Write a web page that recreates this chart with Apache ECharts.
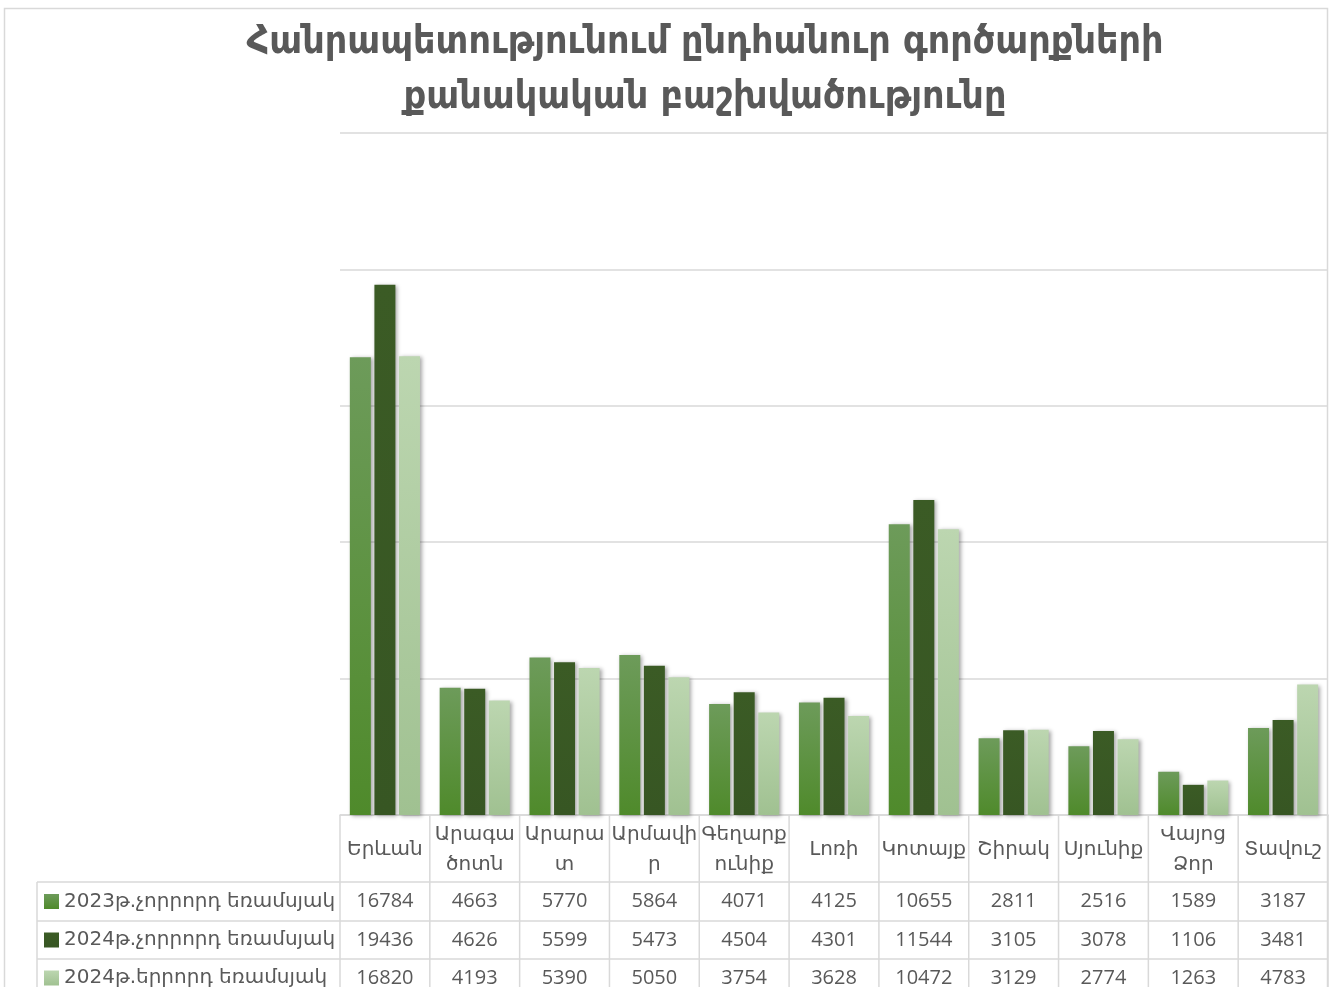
<!DOCTYPE html>
<html><head><meta charset="utf-8">
<script src="https://cdn.jsdelivr.net/npm/echarts@6/dist/echarts.min.js"></script>
<style>html,body{margin:0;padding:0;background:#fff}#c{width:1335px;height:987px}</style>
</head><body><div id="c"></div>
<script>
const titleText = 'Հանրապետությունում ընդհանուր գործարքների\nքանակական բաշխվածությունը';
const categories = ['Երևան','Արագածոտն','Արարատ','Արմավիր','Գեղարքունիք','Լոռի','Կոտայք','Շիրակ','Սյունիք','Վայոց Ձոր','Տավուշ'];
const tickLabels = ['Երևան','Արագա\nծոտն','Արարա\nտ','Արմավի\nր','Գեղարք\nունիք','Լոռի','Կոտայք','Շիրակ','Սյունիք','Վայոց\nՁոր','Տավուշ'];
const seriesNames = ['2023թ.չորրորդ եռամսյակ','2024թ.չորրորդ եռամսյակ','2024թ.երրորդ եռամսյակ'];
const q4_2023 = [16784,4663,5770,5864,4071,4125,10655,2811,2516,1589,3187];
const q4_2024 = [19436,4626,5599,5473,4504,4301,11544,3105,3078,1106,3481];
const q3_2024 = [16820,4193,5390,5050,3754,3628,10472,3129,2774,1263,4783];
const yMax = 25000, yStep = 5000;

const seriesData = [q4_2023, q4_2024, q3_2024];
const grad = (a,b) => new echarts.graphic.LinearGradient(0,0,0,1,[{offset:0,color:a},{offset:1,color:b}]);
const fills = [grad('#6d9b5a','#4f8a2b'), grad('#3b5b25','#375623'), grad('#bcd6b0','#a0c191')];

// layout
const W = 1335, H = 987;
const gl = 340, gr = 1328, gt = 133, gb = 815;
const cellW = (gr - gl) / categories.length;
const rowY = [882, 921, 959, 997];
const tableLeft = 37;
const border = '#d9d9d9';
const txt = '#595959';
const numFont = '20px "Open Sans", "DejaVu Sans", sans-serif';
const armFont = '20px "DejaVu Sans", sans-serif';

const graphics = [];
const line = (x1,y1,x2,y2) => graphics.push({type:'line', silent:true, z:1, shape:{x1,y1,x2,y2}, style:{stroke:border, lineWidth:1.5}});
// outer chart border
graphics.push({type:'rect', silent:true, z:0, shape:{x:4.5, y:8.5, width:1323, height:1000}, style:{fill:'none', stroke:border, lineWidth:1.5}});
// header vertical lines
for (let k = 0; k <= categories.length; k++) line(gl + k*cellW, gb, gl + k*cellW, H);
// horizontal table lines
rowY.forEach(y => line(tableLeft, y, gr, y));
line(tableLeft, rowY[0], tableLeft, H);
// row labels & values
seriesNames.forEach((name, r) => {
  const cy = (rowY[r] + rowY[r+1]) / 2;
  graphics.push({type:'rect', silent:true, z:2, shape:{x:44, y:cy-7.5, width:15, height:15}, style:{fill:fills[r]}});
  graphics.push({type:'text', silent:true, z:2, x:64, y:cy, style:{text:name, fill:txt, font:armFont, textAlign:'left', textVerticalAlign:'middle', align:'left', verticalAlign:'middle'}});
  seriesData[r].forEach((v, i) => {
    graphics.push({type:'text', silent:true, z:2, x:gl + (i+0.5)*cellW, y:cy, style:{text:String(v), fill:txt, font:numFont, textAlign:'center', textVerticalAlign:'middle', align:'center', verticalAlign:'middle'}});
  });
});
// title
graphics.push({type:'text', silent:true, z:2, x:705, y:70, style:{text:titleText, fill:txt, font:'bold 39px "DejaVu Sans Condensed", "DejaVu Sans", sans-serif', lineHeight:55, textAlign:'center', textVerticalAlign:'middle', align:'center', verticalAlign:'middle'}});

const chart = echarts.init(document.getElementById('c'), null, {renderer:'canvas'});
chart.setOption({
  animation:false,
  backgroundColor:'#ffffff',
  grid:{left:gl, right:W-gr, top:gt, bottom:H-gb, containLabel:false},
  xAxis:{type:'category', data:categories,
    axisLine:{show:true, lineStyle:{color:border, width:1.5}},
    axisTick:{show:false},
    axisLabel:{interval:0, margin:35, verticalAlign:'middle', lineHeight:30, color:txt, fontSize:20,
      fontFamily:'"DejaVu Sans", sans-serif',
      formatter:(v, i) => tickLabels[i]}
  },
  yAxis:{type:'value', min:0, max:yMax, interval:yStep,
    axisLabel:{show:false}, axisLine:{show:false}, axisTick:{show:false},
    splitLine:{lineStyle:{color:border, width:1.5}}},
  series: seriesNames.map((n, r) => ({
    name:n, type:'bar', data:seriesData[r], barWidth:21, barGap:'17%',
    itemStyle:{color:fills[r], shadowColor:'rgba(0,0,0,0.35)', shadowBlur:4, shadowOffsetX:2, shadowOffsetY:1}
  })),
  graphic: graphics
});
</script>
</body></html>
